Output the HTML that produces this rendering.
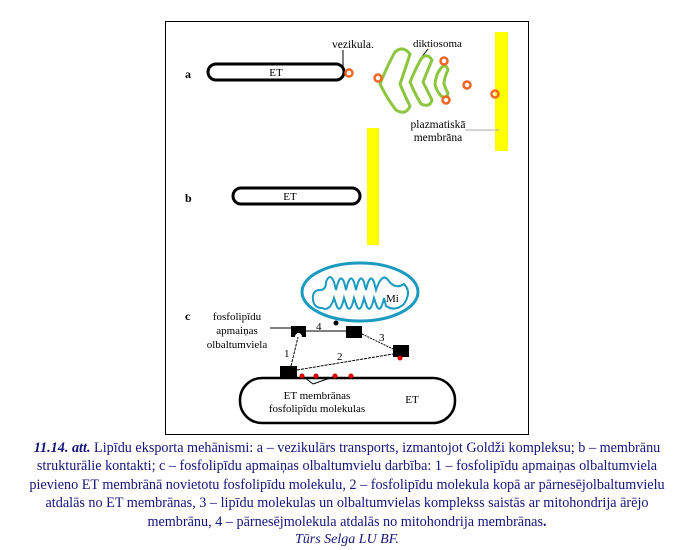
<!DOCTYPE html>
<html><head><meta charset="utf-8"><style>
body{margin:0;width:694px;height:550px;background:#fff;position:relative;overflow:hidden}
svg{position:absolute;left:0;top:0}
.cap{position:absolute;left:0;top:439px;width:694px;text-align:center;font-family:"Liberation Serif",serif;font-size:14.2px;line-height:18.4px;color:#14147a}
.cr{position:absolute;left:0;top:532px;width:694px;text-align:center;font-family:"Liberation Serif",serif;font-size:14px;font-style:italic;color:#14147a}
</style></head><body>
<svg width="694" height="550" font-family="Liberation Serif, serif" font-size="11.5">
<rect x="165.5" y="21.5" width="363" height="413" fill="none" stroke="#000" stroke-width="1"/>
<!-- a -->
<text x="185" y="78" font-weight="bold" font-size="12">a</text>
<rect x="208" y="64" width="136" height="16" rx="8" fill="none" stroke="#000" stroke-width="3"/>
<text x="276" y="76" text-anchor="middle" font-size="11">ET</text>
<text x="332" y="48">vezikula.</text>
<line x1="343" y1="50" x2="343" y2="69" stroke="#000"/>
<text x="413" y="47" font-size="11">diktiosoma</text>
<line x1="428" y1="49" x2="421" y2="58" stroke="#000"/>
<rect x="495" y="32" width="13" height="119" fill="#ffff00"/>
<g fill="none" stroke="#8cc63f" stroke-width="3" stroke-linejoin="round">
<path d="M380,84 Q388,64 395,52 Q403,45 410,54 Q405,70 400,84 Q405,96 410,106 Q406,116 396,110 Q388,100 380,84 Z"/>
<path d="M410,82 Q416,68 421,59 Q427,52 432,60 Q427,72 423,82 Q428,92 432,100 Q430,108 421,104 Q415,94 410,82 Z"/>
<path d="M435,84 Q436,74 441,68 Q446,63 448,70 Q444,78 444,84 Q446,90 448,93 Q447,99 441,96 Q436,90 435,84 Z"/>
</g>
<g fill="none" stroke="#f26522" stroke-width="2.5">
<circle cx="349" cy="73" r="3.5"/><circle cx="378" cy="78" r="3.5"/><circle cx="444" cy="61" r="3.5"/><circle cx="446" cy="100" r="3.5"/><circle cx="467" cy="85" r="3.5"/><circle cx="495" cy="94" r="3.5"/>
</g>
<text x="438" y="128" text-anchor="middle">plazmatiskā</text>
<text x="438" y="141" text-anchor="middle">membrāna</text>
<line x1="465" y1="130" x2="499" y2="130" stroke="#aaa"/>
<!-- b -->
<text x="185" y="202" font-weight="bold" font-size="12">b</text>
<rect x="233" y="188" width="127" height="16" rx="8" fill="none" stroke="#000" stroke-width="3"/>
<text x="290" y="200" text-anchor="middle" font-size="11">ET</text>
<rect x="367" y="128" width="12" height="117" fill="#ffff00"/>
<!-- c -->
<text x="185" y="320" font-weight="bold" font-size="12">c</text>
<ellipse cx="360" cy="292" rx="58" ry="29" fill="none" stroke="#1a9ac0" stroke-width="3"/>
<path d="M313,300 Q312,290 320,290 Q326,290 326,282 Q330,272 334,282 L336,290 Q340,272 344,282 L346,290 Q350,272 354,282 L356,290 Q360,272 364,282 L366,290 Q370,272 374,282 L376,290 Q382,272 388,280 Q395,290 404,284 Q412,292 404,304 Q395,312 386,306 L384,298 Q380,316 376,304 L374,298 Q370,316 366,304 L364,298 Q360,316 356,304 L354,298 Q350,316 346,304 L344,298 Q340,316 336,304 L334,298 Q330,312 322,308 Q314,308 313,300 Z" fill="none" stroke="#1a9ac0" stroke-width="2"/>
<text x="386" y="302" font-size="11">Mi</text>
<rect x="240" y="378" width="215" height="45" rx="22" fill="none" stroke="#000" stroke-width="2.5"/>
<text x="237" y="320" text-anchor="middle" font-size="11">fosfolipīdu</text>
<text x="237" y="334" text-anchor="middle" font-size="11">apmaiņas</text>
<text x="237" y="348" text-anchor="middle" font-size="11">olbaltumviela</text>
<line x1="270" y1="328" x2="292" y2="328" stroke="#000"/>
<line x1="306" y1="331" x2="346" y2="331" stroke="#000"/>
<text x="316" y="330" font-size="11">4</text>
<line x1="362" y1="334" x2="393" y2="349" stroke="#000" stroke-dasharray="2,1"/>
<text x="379" y="341" font-size="11">3</text>
<line x1="297" y1="370" x2="393" y2="354" stroke="#000" stroke-dasharray="3,1"/>
<text x="337" y="360" font-size="11">2</text>
<line x1="291" y1="366" x2="298" y2="337" stroke="#000" stroke-dasharray="3,1"/>
<text x="284" y="357" font-size="11">1</text>
<path d="M291,326 h15 v11 h-4 a3.5,4 0 0 0 -7,0 h-4 Z" fill="#000"/>
<rect x="346" y="326" width="16" height="12" fill="#000"/>
<rect x="393" y="345" width="16" height="12" fill="#000"/>
<rect x="280" y="366" width="17" height="12" fill="#000"/>
<circle cx="336" cy="323" r="2.5" fill="#000"/>
<g fill="#e00000"><circle cx="400" cy="358" r="2.5"/><circle cx="302" cy="376" r="2.5"/><circle cx="316" cy="376" r="2.5"/><circle cx="335" cy="376" r="2.5"/><circle cx="351" cy="376" r="2.5"/></g>
<line x1="313" y1="384" x2="304" y2="377" stroke="#000"/>
<line x1="313" y1="384" x2="333" y2="377" stroke="#000"/>
<text x="317" y="399" text-anchor="middle" font-size="11">ET membrānas</text>
<text x="317" y="412" text-anchor="middle" font-size="11">fosfolipīdu molekulas</text>
<text x="412" y="403" text-anchor="middle" font-size="11">ET</text>
</svg>
<div class="cap"><b><i>11.14. att.</i></b> Lipīdu eksporta mehānismi: a – vezikulārs transports, izmantojot Goldži kompleksu; b – membrānu<br>strukturālie kontakti; c – fosfolipīdu apmaiņas olbaltumvielu darbība: 1 – fosfolipīdu apmaiņas olbaltumviela<br>pievieno ET membrānā novietotu fosfolipīdu molekulu, 2 – fosfolipīdu molekula kopā ar pārnesējolbaltumvielu<br>atdalās no ET membrānas, 3 – lipīdu molekulas un olbaltumvielas komplekss saistās ar mitohondrija ārējo<br>membrānu, 4 – pārnesējmolekula atdalās no mitohondrija membrānas<b>.</b></div>
<div class="cr">Tūrs Selga LU BF.</div>
</body></html>
